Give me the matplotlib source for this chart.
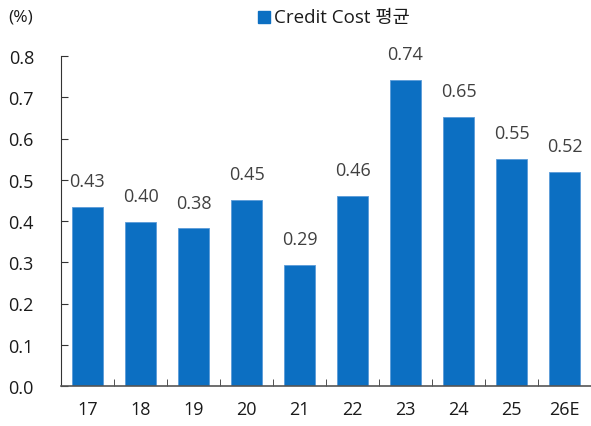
import matplotlib
matplotlib.use("Agg")
import matplotlib.pyplot as plt
from matplotlib.patches import Rectangle
from matplotlib.ticker import FixedLocator

plt.rcParams['font.family'] = ['Open Sans', 'Noto Sans CJK KR', 'DejaVu Sans']

categories = ["17", "18", "19", "20", "21", "22", "23", "24", "25", "26E"]
values = [0.435, 0.398, 0.382, 0.452, 0.293, 0.461, 0.743, 0.653, 0.550, 0.519]
labels = ["0.43", "0.40", "0.38", "0.45", "0.29", "0.46", "0.74", "0.65", "0.55", "0.52"]
yticks = [0.0, 0.1, 0.2, 0.3, 0.4, 0.5, 0.6, 0.7, 0.8]
series_name = "Credit Cost 평균"

color = "#0c6fc2"
fig = plt.figure(figsize=(5.91, 4.27), dpi=100)
ax = fig.add_axes([61/591, 1-387/427, 1-61/591, (387-57)/427])
x = list(range(len(categories)))
bars = ax.bar(x, values, width=0.57, color=color, edgecolor="#5a9bd8", linewidth=0.6)
for xi, v, lab in zip(x, values, labels):
    ax.annotate(lab, (xi, v), xytext=(0, 12), textcoords="offset points",
                ha="center", va="bottom", fontsize=13, color="#404040")

ax.set_xlim(-0.5, len(categories) - 0.5)
ax.set_ylim(0, 0.8)
ax.set_yticks(yticks)
ax.set_yticklabels([f"{t:.1f}" for t in yticks], fontsize=13, color="#1a1a1a")
ax.set_xticks(x)
ax.set_xticklabels(categories, fontsize=13, color="#1a1a1a")
ax.xaxis.set_minor_locator(FixedLocator([i + 0.5 for i in range(len(categories) - 1)]))
ax.tick_params(axis='x', which='major', length=0, pad=10)
ax.tick_params(axis='x', which='minor', direction='in', length=5, color="#333333")
ax.tick_params(axis='y', direction='in', length=5, pad=19.5, color="#333333")
for s in ["top", "right"]:
    ax.spines[s].set_visible(False)
ax.spines["left"].set_color("#333333")
ax.spines["bottom"].set_color("#555555")
ax.spines["bottom"].set_linewidth(1.2)

fig.text(8/591, 1-18/427, "(%)", fontsize=12.5, ha="left", va="center", color="#1a1a1a")
fig.patches.append(Rectangle((258/591, 1-24/427), 12/591, 12/427, transform=fig.transFigure,
                             color=color, figure=fig))
fig.text(274/591, 1-18/427, series_name, fontsize=13.5, ha="left", va="center", color="#1a1a1a")

fig.savefig("out.png", dpi=100)
